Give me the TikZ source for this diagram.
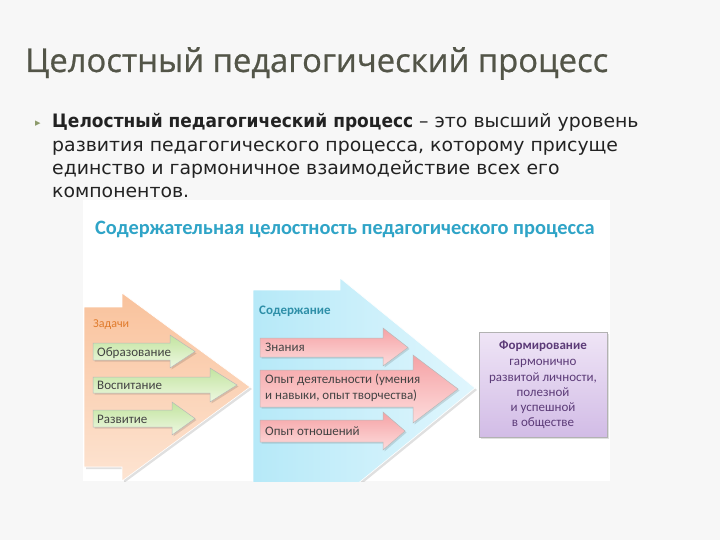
\documentclass[tikz,border=0pt]{standalone}
\usepackage{fontspec}
\setmainfont{DejaVu Sans}[FakeStretch=1.02, BoldFeatures={FakeStretch=0.92}]
\newfontfamily\titlefont{Open Sans}[FakeBold=0.7]
\newfontfamily\diagfont{Carlito}
\newfontfamily\symfont{DejaVu Sans}
\definecolor{slidebg}{HTML}{F7F7F7}
\definecolor{titlecol}{HTML}{535548}
\definecolor{bulletcol}{HTML}{8C9A6A}
\definecolor{diagtitle}{HTML}{2FA4C7}
\definecolor{orA}{HTML}{F9C29C}
\definecolor{orB}{HTML}{FDE4D2}
\definecolor{blA}{HTML}{B6E9F8}
\definecolor{blB}{HTML}{E0F6FD}
\definecolor{grA}{HTML}{C2E49F}
\definecolor{grB}{HTML}{EEF8E2}
\definecolor{pkA}{HTML}{F5A2A5}
\definecolor{pkB}{HTML}{FDDCDC}
\definecolor{puA}{HTML}{EFE5F6}
\definecolor{puB}{HTML}{D2BCE6}
\definecolor{orangetxt}{HTML}{E07B2C}
\definecolor{tealtxt}{HTML}{2E8FA8}
\definecolor{purpletxt}{HTML}{5C3B78}
\definecolor{darktxt}{HTML}{222222}
\tikzset{
  bodyline/.style={anchor=base west, inner sep=0pt, text=darktxt, font=\fontsize{18.5}{22}\selectfont},
  inarrow/.style={anchor=base west, inner sep=0pt, text=darktxt!85, font=\diagfont\fontsize{13}{15}\selectfont},
  shadowfill/.style={fill=black, opacity=0.12},
  smallarrow/.style={draw=gray!55, line width=0.5pt},
  purpleline/.style={anchor=base, inner sep=0pt, text=purpletxt, font=\diagfont\fontsize{13}{15}\selectfont},
}
\begin{document}
\begin{tikzpicture}[x=1pt, y=-1pt]
\useasboundingbox (0,0) rectangle (720,540);
\fill[slidebg] (0,0) rectangle (720,540);

% title
\node[anchor=base west, inner sep=0pt, text=titlecol, font=\titlefont\fontsize{32.8}{38}\selectfont] (title) at (25,72) {Целостный педагогический процесс};

% bullet text
\node[anchor=base west, inner sep=0pt, text=bulletcol, font=\symfont\fontsize{11}{12}\selectfont] (bullet) at (35,127) {▸};
\node[bodyline] (l1) at (52,128) {\textbf{Целостный педагогический процесс} – это высший уровень};
\node[bodyline] (l2) at (52,152) {развития педагогического процесса, которому присуще};
\node[bodyline] (l3) at (52,175) {единство и гармоничное взаимодействие всех его};
\node[bodyline] (l4) at (52,198) {компонентов.};

% diagram image
\fill[white] (83,200) rectangle (610,481);
\node[anchor=base west, inner sep=0pt, text=diagtitle, font=\diagfont\bfseries\fontsize{20.4}{24}\selectfont] (dtitle) at (95,234) {Содержательная целостность педагогического процесса};

\begin{scope}
\clip (83,200) rectangle (610,481);
% orange big arrow
\fill[shadowfill] (86,309) -- (124,309) -- (124,295) -- (252,389) -- (124,483) -- (124,469) -- (86,469) -- cycle;
\shade[top color=orA, bottom color=orB, draw=white, line width=0.6pt]
  (84,307) -- (122,307) -- (122,293) -- (250,387) -- (122,481) -- (122,467) -- (84,467) -- cycle;
% blue big arrow
\fill[shadowfill] (255,292) -- (342,292) -- (342,280) -- (477,390) -- (342,500) -- (342,488) -- (255,488) -- cycle;
\shade[left color=blA, right color=blB, draw=white, line width=0.6pt]
  (253,290) -- (340,290) -- (340,278) -- (475,388) -- (340,498) -- (340,486) -- (253,486) -- cycle;
\end{scope}

\node[anchor=base west, inner sep=0pt, text=orangetxt, font=\diagfont\fontsize{12}{14}\selectfont] (zadachi) at (93,327) {Задачи};
\node[anchor=base west, inner sep=0pt, text=tealtxt, font=\diagfont\bfseries\fontsize{13}{15}\selectfont] (soder) at (259,314) {Содержание};

% green arrows
\fill[shadowfill] (94.5,344.5) -- (171.5,344.5) -- (171.5,336.5) -- (196.5,353.5) -- (171.5,369.5) -- (171.5,361.5) -- (94.5,361.5) -- cycle;
\shade[top color=grA, bottom color=grB, smallarrow]
  (93,343) -- (170,343) -- (170,335) -- (195,351.5) -- (170,368) -- (170,360) -- (93,360) -- cycle;
\fill[shadowfill] (94.5,378.5) -- (211.5,378.5) -- (211.5,369.5) -- (238.5,386.5) -- (211.5,403.5) -- (211.5,394.5) -- (94.5,394.5) -- cycle;
\shade[top color=grA, bottom color=grB, smallarrow]
  (93,377) -- (210,377) -- (210,368) -- (237,385) -- (210,402) -- (210,393) -- (93,393) -- cycle;
\fill[shadowfill] (94.5,411.5) -- (173.5,411.5) -- (173.5,403.5) -- (196.5,420) -- (173.5,436.5) -- (173.5,428.5) -- (94.5,428.5) -- cycle;
\shade[top color=grA, bottom color=grB, smallarrow]
  (93,410) -- (172,410) -- (172,402) -- (195,418.5) -- (172,435) -- (172,427) -- (93,427) -- cycle;
\node[inarrow] (obr) at (97,356) {Образование};
\node[inarrow] (vosp) at (97,389.5) {Воспитание};
\node[inarrow] (razv) at (97,423) {Развитие};

% pink arrows
\fill[shadowfill] (261.5,339.5) -- (384.5,339.5) -- (384.5,329.5) -- (409.5,349) -- (384.5,367.5) -- (384.5,358.5) -- (261.5,358.5) -- cycle;
\shade[top color=pkA, bottom color=pkB, smallarrow]
  (260,338) -- (383,338) -- (383,328) -- (408,347.5) -- (383,366) -- (383,357) -- (260,357) -- cycle;
\fill[shadowfill] (261.5,371.5) -- (414.5,371.5) -- (414.5,356.5) -- (459.5,390.5) -- (414.5,424.5) -- (414.5,408.5) -- (261.5,408.5) -- cycle;
\shade[top color=pkA, bottom color=pkB, smallarrow]
  (260,370) -- (413,370) -- (413,355) -- (458,389) -- (413,423) -- (413,407) -- (260,407) -- cycle;
\fill[shadowfill] (261.5,421.5) -- (384.5,421.5) -- (384.5,413.5) -- (406.5,432.5) -- (384.5,451.5) -- (384.5,443.5) -- (261.5,443.5) -- cycle;
\shade[top color=pkA, bottom color=pkB, smallarrow]
  (260,420) -- (383,420) -- (383,412) -- (405,431) -- (383,450) -- (383,442) -- (260,442) -- cycle;
\node[inarrow] (znan) at (265,351.5) {Знания};
\node[inarrow] (opd1) at (265,383) {Опыт деятельности (умения};
\node[inarrow] (opd2) at (265,399.5) {и навыки, опыт творчества)};
\node[inarrow] (opo) at (265,435.5) {Опыт отношений};

% purple result box
\fill[shadowfill] (481,334) rectangle (609,439);
\shade[top color=puA, bottom color=puB, draw=gray!60, line width=0.6pt] (479,332) rectangle (607,437);
\node[purpleline, font=\diagfont\bfseries\fontsize{13}{15}\selectfont] (f1) at (543,349) {Формирование};
\node[purpleline] (f2) at (543,365) {гармонично};
\node[purpleline] (f3) at (543,381) {развитой личности,};
\node[purpleline] (f4) at (543,396) {полезной};
\node[purpleline] (f5) at (543,411.5) {и успешной};
\node[purpleline] (f6) at (543,426) {в обществе};
\end{tikzpicture}
\end{document}
